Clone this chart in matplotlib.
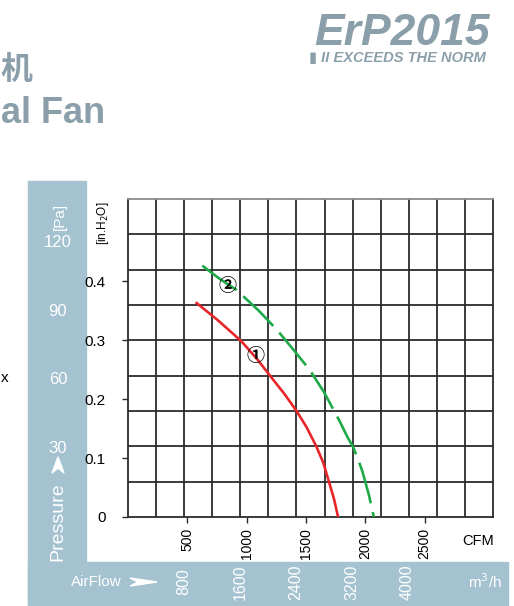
import matplotlib.pyplot as plt
import matplotlib.transforms as mtransforms
from matplotlib.patches import Rectangle, Polygon

# curve 1 (red, solid) and curve 2 (green, dashed): airflow CFM vs static pressure inH2O
cfm_1 = [570, 760, 955, 1090, 1222, 1320, 1419, 1505, 1588, 1645, 1694, 1735, 1770]
inh2o_1 = [0.364, 0.333, 0.298, 0.267, 0.233, 0.208, 0.180, 0.152, 0.119, 0.092, 0.059, 0.031, 0.0]
cfm_2 = [626, 770, 913, 1100, 1256, 1400, 1532, 1650, 1784, 1850, 1896, 1940, 1975, 2030, 2071]
inh2o_2 = [0.426, 0.404, 0.385, 0.350, 0.317, 0.282, 0.249, 0.212, 0.162, 0.135, 0.119, 0.097, 0.077, 0.037, 0.0]

cfm_ticks = [500, 1000, 1500, 2000, 2500]
inh2o_ticks = [0, 0.1, 0.2, 0.3, 0.4]
inh2o_labels = ['0', '0.1', '0.2', '0.3', '0.4']
pa_ticks = [30, 60, 90, 120]
m3h_ticks = [800, 1600, 2400, 3200, 4000]

CFM_MAX = 3075
INH2O_MAX = 0.539
PA_PER_INH2O = 258      # scale the chart uses for its Pa column
M3H_PER_CFM = 1.699

panel = '#a4c2d0'
grey_text = '#8a9faa'
sans = ['Liberation Sans', 'DejaVu Sans']

W, H = 514, 606
fig = plt.figure(figsize=(W / 100, H / 100), dpi=100)


def fx(px):
    return px / W


def fy(py):
    return 1 - py / H


# blue-grey L-shaped band, behind everything
fig.patches.append(Rectangle((fx(28), fy(605)), fx(86) - fx(28), fy(181) - fy(605),
                             transform=fig.transFigure, color=panel, zorder=-2))
fig.patches.append(Rectangle((fx(28), fy(605)), fx(508) - fx(28), fy(562) - fy(605),
                             transform=fig.transFigure, color=panel, zorder=-2))

ax = fig.add_axes([fx(128), fy(517), (493 - 128) / W, (517 - 199) / H])
ax.set_xlim(0, CFM_MAX)
ax.set_ylim(0, INH2O_MAX)

# 13 x 9 grid, independent of the ticks
for i in range(1, 13):
    ax.axvline(CFM_MAX * i / 13, color='#2b2b2b', lw=1.3, zorder=1)
for j in range(1, 9):
    ax.axhline(INH2O_MAX * j / 9, color='#2b2b2b', lw=1.3, zorder=1)
for s in ax.spines.values():
    s.set_color('#2b2b2b')
    s.set_linewidth(1.3)
ax.spines['top'].set_color('#8c8c8c')

ax.plot(cfm_1, inh2o_1, color='#e8262a', lw=1.9, zorder=3, solid_capstyle='butt')
ax.plot(cfm_2, inh2o_2, color='#1faa4a', lw=1.9, zorder=3, dashes=(16, 3.4))

ax.text(1074, 0.273, '\u2460', fontsize=13, fontweight='bold', ha='center', va='center', zorder=4,
        family=['Noto Sans CJK SC', 'DejaVu Sans'])
ax.text(837, 0.393, '\u2461', fontsize=13, fontweight='bold', ha='center', va='center', zorder=4,
        family=['Noto Sans CJK SC', 'DejaVu Sans'])

ax.set_yticks(inh2o_ticks)
ax.set_yticklabels(inh2o_labels, family=sans, fontsize=11)
ax.set_xticks(cfm_ticks)
ax.set_xticklabels([str(v) for v in cfm_ticks], family=sans, fontsize=10, rotation=90)
ax.tick_params(axis='y', length=4, width=1, pad=12, color='#2b2b2b')
ax.tick_params(axis='x', length=4, width=1, pad=4, color='#2b2b2b')

fig.text(fx(103), fy(223), '[in.H$_2$O]', rotation=90, ha='center', va='center',
         fontsize=8.5, family=sans)
fig.text(fx(478), fy(541), 'CFM', ha='center', va='center', fontsize=10.5, family=sans)

# Pa column
pa_tr = mtransforms.blended_transform_factory(fig.transFigure, ax.transData)
for pa in pa_ticks:
    ax.text(fx(58), pa / PA_PER_INH2O, str(pa), transform=pa_tr, ha='center', va='center',
            fontsize=12, color='white', family=sans, clip_on=False)
fig.text(fx(60), fy(216), '[Pa]', rotation=90, ha='center', va='center', fontsize=11,
         color='white', family=sans)
fig.text(fx(58), fy(522), 'Pressure', rotation=90, ha='center', va='center', fontsize=14,
         color='white', family=sans)
fig.patches.append(Polygon([(fx(52), fy(473)), (fx(58), fy(457)), (fx(64), fy(473)), (fx(58), fy(468))],
                           closed=True, transform=fig.transFigure, color='white', zorder=1))

# m3/h row
m3h_tr = mtransforms.blended_transform_factory(ax.transData, fig.transFigure)
for q in m3h_ticks:
    ax.text(q / M3H_PER_CFM, fy(582), str(q), transform=m3h_tr, rotation=90, ha='center',
            va='center', fontsize=11.5, color='white', family=sans, clip_on=False)
fig.text(fx(96), fy(582), 'AirFlow', ha='center', va='center', fontsize=11,
         color='white', family=sans)
fig.patches.append(Polygon([(fx(130), fy(578)), (fx(157), fy(582)), (fx(130), fy(586)), (fx(138), fy(582))],
                           closed=True, transform=fig.transFigure, color='white', zorder=1))
fig.text(fx(485), fy(582), 'm$^3$/h', ha='center', va='center', fontsize=11,
         color='white', family=sans)

# header
fig.text(fx(0), fy(70), '\u673a', ha='left', va='center', fontsize=23, fontweight='bold',
         color=grey_text, family=['Noto Sans CJK SC', 'DejaVu Sans'])
fig.text(fx(1), fy(114), 'al Fan', ha='left', va='center', fontsize=26, fontweight='bold',
         color=grey_text, family=sans)
fig.text(fx(402), fy(45), 'ErP2015', ha='center', va='baseline', fontsize=32, fontweight='bold',
         style='italic', color=grey_text, family=sans)
fig.text(fx(397), fy(62), '\u25ae II EXCEEDS THE NORM', ha='center', va='baseline', fontsize=10.5,
         fontweight='bold', style='italic', color=grey_text, family=sans)
fig.text(fx(5), fy(378), 'x', ha='center', va='center', fontsize=11, family=sans)

fig.savefig('out.png', dpi=100)
